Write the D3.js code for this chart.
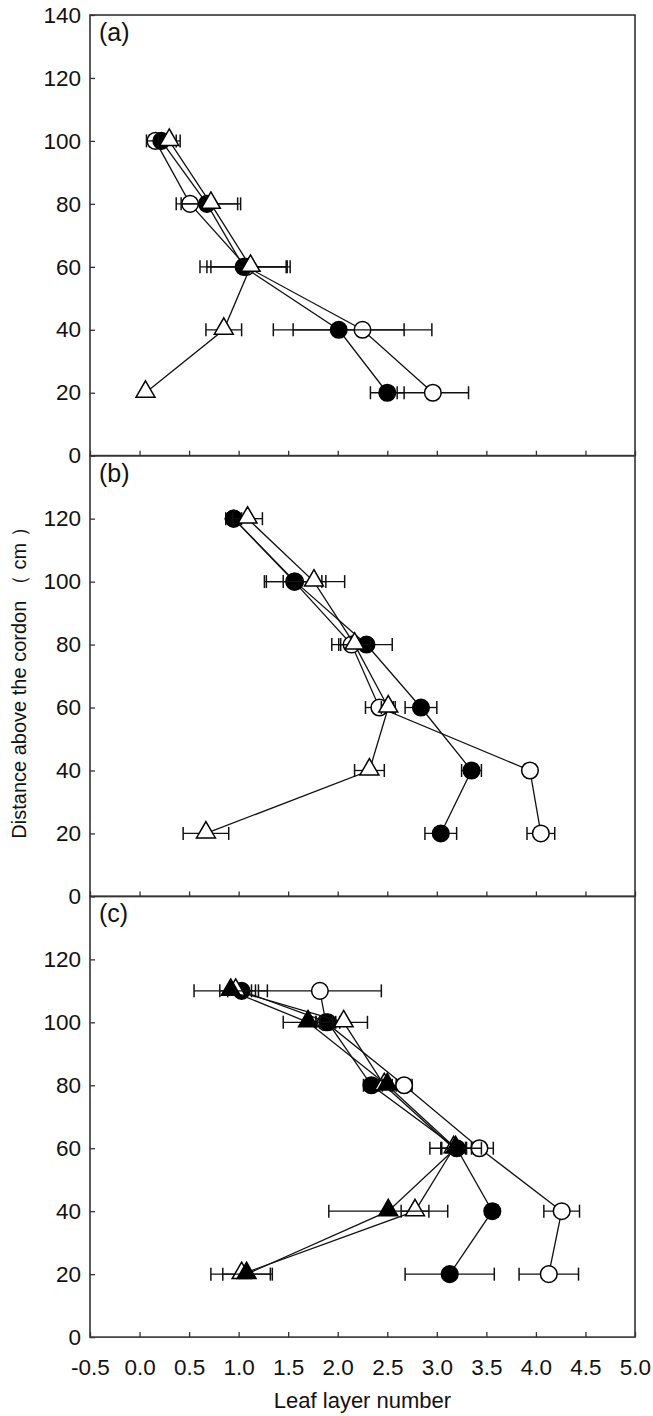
<!DOCTYPE html>
<html>
<head>
<meta charset="utf-8">
<script src="https://cdn.jsdelivr.net/npm/d3@7"></script>
<style>
  body { margin: 0; background: #fff; }
  svg { display: block; font-family: "Liberation Sans", Arial, sans-serif; }
  .tick line { stroke: #333; stroke-width: 1.3; }
  .tick text { font-size: 22.5px; fill: #111; }
</style>
</head>
<body>
<svg id="chart" width="653" height="1416"></svg>
<script>
// leaf layer number by height (cm)
const heightsA = [100, 80, 60, 40, 20];
const aOpenCircle = [0.16, 0.51, 1.08, 2.25, 2.96];
const aOpenCircleErr = [0.06, 0.05, 0.40, 0.70, 0.36];
const aFilledCircle = [0.22, 0.68, 1.05, 2.01, 2.50];
const aFilledCircleErr = [0.15, 0.31, 0.44, 0.66, 0.17];
const aOpenTriangle = [0.30, 0.72, 1.12, 0.85, 0.06];
const aOpenTriangleErr = [0.11, 0.30, 0.40, 0.18, 0.0];

const heightsB = [120, 100, 80, 60, 40, 20];
const bOpenCircle = [0.95, 1.56, 2.14, 2.42, 3.94, 4.05];
const bOpenCircleErr = [0.05, 0.28, 0.20, 0.14, 0.05, 0.14];
const bFilledCircle = [0.95, 1.57, 2.29, 2.84, 3.35, 3.04];
const bFilledCircleErr = [0.08, 0.31, 0.26, 0.16, 0.10, 0.16];
const bOpenTriangle = [1.09, 1.76, 2.17, 2.51, 2.32, 0.67];
const bOpenTriangleErr = [0.15, 0.31, 0.16, 0.07, 0.15, 0.23];

const heightsC = [110, 100, 80, 60, 40, 20];
const cOpenCircle = [1.82, 1.88, 2.67, 3.43, 4.26, 4.13];
const cOpenCircleErr = [0.62, 0.10, 0.08, 0.14, 0.18, 0.30];
const cFilledCircle = [1.03, 1.90, 2.34, 3.20, 3.56, 3.13];
const cFilledCircleErr = [0.14, 0.12, 0.08, 0.15, 0.06, 0.45];
const cOpenTriangle = [0.97, 2.06, 2.47, 3.17, 2.78, 1.03];
const cOpenTriangleErr = [0.16, 0.24, 0.06, 0.13, 0.14, 0.31];
const cFilledTriangle = [0.92, 1.70, 2.50, 3.19, 2.51, 1.08];
const cFilledTriangleErr = [0.37, 0.25, 0.05, 0.26, 0.60, 0.24];

const xTicks = [-0.5, 0, 0.5, 1, 1.5, 2, 2.5, 3, 3.5, 4, 4.5, 5];
const yTicksA = [0, 20, 40, 60, 80, 100, 120, 140];
const yTicksBC = [0, 20, 40, 60, 80, 100, 120];

const panels = [
  { label: "(a)", heights: heightsA, yTicks: yTicksA, series: [
      { kind: "circle", fill: "#fff", values: aOpenCircle, err: aOpenCircleErr },
      { kind: "circle", fill: "#000", values: aFilledCircle, err: aFilledCircleErr },
      { kind: "triangle", fill: "#fff", values: aOpenTriangle, err: aOpenTriangleErr }] },
  { label: "(b)", heights: heightsB, yTicks: yTicksBC, series: [
      { kind: "circle", fill: "#fff", values: bOpenCircle, err: bOpenCircleErr },
      { kind: "circle", fill: "#000", values: bFilledCircle, err: bFilledCircleErr },
      { kind: "triangle", fill: "#fff", values: bOpenTriangle, err: bOpenTriangleErr }] },
  { label: "(c)", heights: heightsC, yTicks: yTicksBC, series: [
      { kind: "circle", fill: "#fff", values: cOpenCircle, err: cOpenCircleErr },
      { kind: "circle", fill: "#000", values: cFilledCircle, err: cFilledCircleErr },
      { kind: "triangle", fill: "#fff", values: cOpenTriangle, err: cOpenTriangleErr },
      { kind: "triangle", fill: "#000", values: cFilledTriangle, err: cFilledTriangleErr }] }
];

const svg = d3.select("#chart");
const plotLeft = 90, plotRight = 635, plotTop = 15, panelH = 440.7;

const x = d3.scaleLinear().domain([-0.5, 5]).range([plotLeft, plotRight]);
const tri = d3.symbol().type(d3.symbolTriangle).size(155);

panels.forEach((p, i) => {
  const y0 = plotTop + i * panelH;
  const y = d3.scaleLinear().domain([0, 140]).range([y0 + panelH, y0]);
  const g = svg.append("g");

  // x ticks (inside), labels only on the bottom panel
  const xAxis = d3.axisBottom(x).tickValues(xTicks).tickSize(-5).tickPadding(22)
    .tickFormat(i === 2 ? (d => d.toFixed(1)) : "");
  g.append("g").attr("transform", `translate(0,${y0 + panelH})`).call(xAxis)
    .call(a => a.select(".domain").remove());

  const yAxis = d3.axisLeft(y).tickValues(p.yTicks).tickSize(-5).tickPadding(9)
    .tickFormat(d3.format("d"));
  g.append("g").attr("transform", `translate(${plotLeft},0)`).call(yAxis)
    .call(a => a.select(".domain").remove());

  g.append("rect")
    .attr("x", plotLeft).attr("y", y0)
    .attr("width", plotRight - plotLeft).attr("height", panelH)
    .attr("fill", "none").attr("stroke", "#333").attr("stroke-width", 1.6);

  g.append("text").attr("x", plotLeft + 9).attr("y", y0 + 26)
    .attr("font-size", 25).attr("fill", "#111").text(p.label);

  const line = d3.line().x(d => x(d.v)).y(d => y(d.h));

  p.series.forEach(s => {
    const pts = p.heights.map((h, k) => ({ h: h, v: s.values[k], e: s.err[k] }));
    const sg = g.append("g");
    sg.append("path").datum(pts).attr("d", line)
      .attr("fill", "none").attr("stroke", "#111").attr("stroke-width", 1.3);

    const eb = sg.selectAll(".eb").data(pts.filter(d => d.e > 0)).enter().append("g");
    eb.append("line")
      .attr("x1", d => x(d.v - d.e)).attr("x2", d => x(d.v + d.e))
      .attr("y1", d => y(d.h)).attr("y2", d => y(d.h))
      .attr("stroke", "#111").attr("stroke-width", 1.3);
    [-1, 1].forEach(sign => {
      eb.append("line")
        .attr("x1", d => x(d.v + sign * d.e)).attr("x2", d => x(d.v + sign * d.e))
        .attr("y1", d => y(d.h) - 6.5).attr("y2", d => y(d.h) + 6.5)
        .attr("stroke", "#111").attr("stroke-width", 1.5);
    });

    if (s.kind === "circle") {
      sg.selectAll(".m").data(pts).enter().append("circle")
        .attr("cx", d => x(d.v)).attr("cy", d => y(d.h)).attr("r", 8.3)
        .attr("fill", s.fill).attr("stroke", "#000").attr("stroke-width", 1.5);
    } else {
      sg.selectAll(".m").data(pts).enter().append("path")
        .attr("d", tri)
        .attr("transform", d => `translate(${x(d.v)},${y(d.h) - 1})`)
        .attr("fill", s.fill).attr("stroke", "#000").attr("stroke-width", 1.5);
    }
  });
});

svg.append("text")
  .attr("x", (plotLeft + plotRight) / 2).attr("y", 1408)
  .attr("text-anchor", "middle").attr("font-size", 22).attr("fill", "#111")
  .text("Leaf layer number");

svg.append("text")
  .attr("transform", "translate(26,678) rotate(-90)")
  .attr("text-anchor", "middle").attr("font-size", 20).attr("fill", "#111")
  .text("Distance above the cordon （ cm ）");
</script>
</body>
</html>
